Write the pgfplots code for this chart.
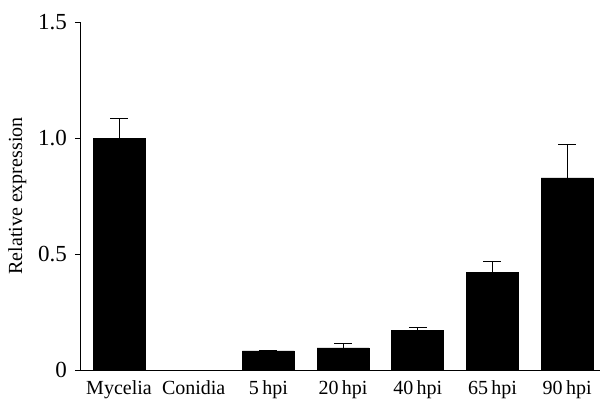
\documentclass[border=0pt]{standalone}
\usepackage{pgfplots}
\pgfplotsset{compat=1.18}
\usepackage{fontspec}
\setmainfont{Liberation Serif}
\begin{document}
\begin{tikzpicture}
\useasboundingbox (-40.5pt,-16pt) rectangle (259.5pt,185pt);
\begin{axis}[
  at={(0,0)}, anchor=south west,
  scale only axis, width=259.5pt, height=174pt,
  xmin=-0.509, xmax=6.44, ymin=0, ymax=1.5,
  axis lines=left, axis line style={-, line width=0.5pt},
  xtick={0,1,2,3,4,5,6},
  xticklabels={Mycelia, Conidia, 5\,hpi, 20\,hpi, 40\,hpi, 65\,hpi, 90\,hpi},
  x tick style={draw=none},
  ytick={0,0.5,1.0,1.5},
  yticklabels={0,0.5,1.0,1.5},
  y tick style={line width=0.5pt, black},
  tick align=outside, major tick length=3pt,
  /pgf/number format/assume math mode=true,
  ticklabel style={font=\fontsize{11.5}{13}\selectfont},
  yticklabel style={xshift=-0.5pt},
  xticklabel style={font=\fontsize{10}{12}\selectfont, yshift=1pt},
  ylabel={Relative expression},
  ylabel style={font=\fontsize{10}{12}\selectfont, yshift=-1pt},
  clip=false,
]
\addplot[ybar, bar width=26pt, fill=black, draw=black,
  error bars/.cd, y dir=plus, y explicit,
  error bar style={line width=0.5pt, black},
  error mark options={rotate=90, mark size=4.5pt, line width=0.5pt, black}]
  coordinates {
  (0,1.0) +- (0,0.082)
  (1,0.0) +- (0,0.0)
  (2,0.082) +- (0,0.004)
  (3,0.095) +- (0,0.018)
  (4,0.172) +- (0,0.010)
  (5,0.422) +- (0,0.044)
  (6,0.828) +- (0,0.143)
  };
\end{axis}
\end{tikzpicture}
\end{document}
